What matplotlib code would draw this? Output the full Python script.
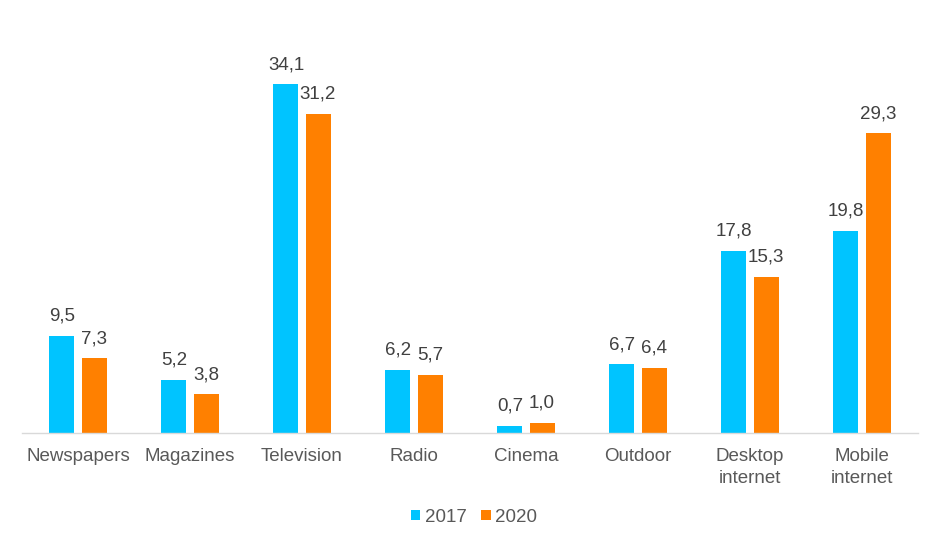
import matplotlib
matplotlib.use("Agg")
import matplotlib.pyplot as plt
import numpy as np

plt.rcParams['font.family'] = ['Liberation Sans', 'DejaVu Sans']

categories = ["Newspapers", "Magazines", "Television", "Radio", "Cinema", "Outdoor",
              "Desktop\ninternet", "Mobile\ninternet"]
values_2017 = [9.5, 5.2, 34.1, 6.2, 0.7, 6.7, 17.8, 19.8]
values_2020 = [7.3, 3.8, 31.2, 5.7, 1.0, 6.4, 15.3, 29.3]
series_names = ["2017", "2020"]

c2017 = "#00C4FF"
c2020 = "#FF8000"
txt = "#595959"
valtxt = "#404040"

fig = plt.figure(figsize=(9.4, 5.47), dpi=100)
ax = fig.add_axes([22/940, 114/547, 896/940, 409/547])

x = np.arange(len(categories))
w = 0.223
off = 0.143
b1 = ax.bar(x - off, values_2017, w, color=c2017, label=series_names[0])
b2 = ax.bar(x + off, values_2020, w, color=c2020, label=series_names[1])

def fmt(v):
    return f"{v:.1f}".replace(".", ",")

for bars, vals in ((b1, values_2017), (b2, values_2020)):
    for r, v in zip(bars, vals):
        ax.annotate(fmt(v), (r.get_x() + r.get_width()/2, v), xytext=(0, 8),
                    textcoords="offset points", ha="center", va="bottom",
                    fontsize=13.5, color=valtxt)

ax.set_xlim(-0.5, len(categories) - 0.5)
ax.set_ylim(0, 40)
ax.set_xticks(x)
ax.set_xticklabels(categories, fontsize=13.5, color=txt, linespacing=1.4)
ax.tick_params(axis='x', length=0, pad=11)
ax.set_yticks([])
for s in ["top", "right", "left"]:
    ax.spines[s].set_visible(False)
ax.spines["bottom"].set_color("#D9D9D9")
ax.spines["bottom"].set_linewidth(1)

leg = fig.legend(handles=[b1, b2], labels=series_names, loc="center",
                 bbox_to_anchor=(474/940, 1 - 517/547), ncol=2, frameon=False,
                 fontsize=13.5, handlelength=0.5, handleheight=0.5, handletextpad=0.25,
                 columnspacing=0.8)
for t in leg.get_texts():
    t.set_color(txt)

fig.savefig("out.png", dpi=100)
